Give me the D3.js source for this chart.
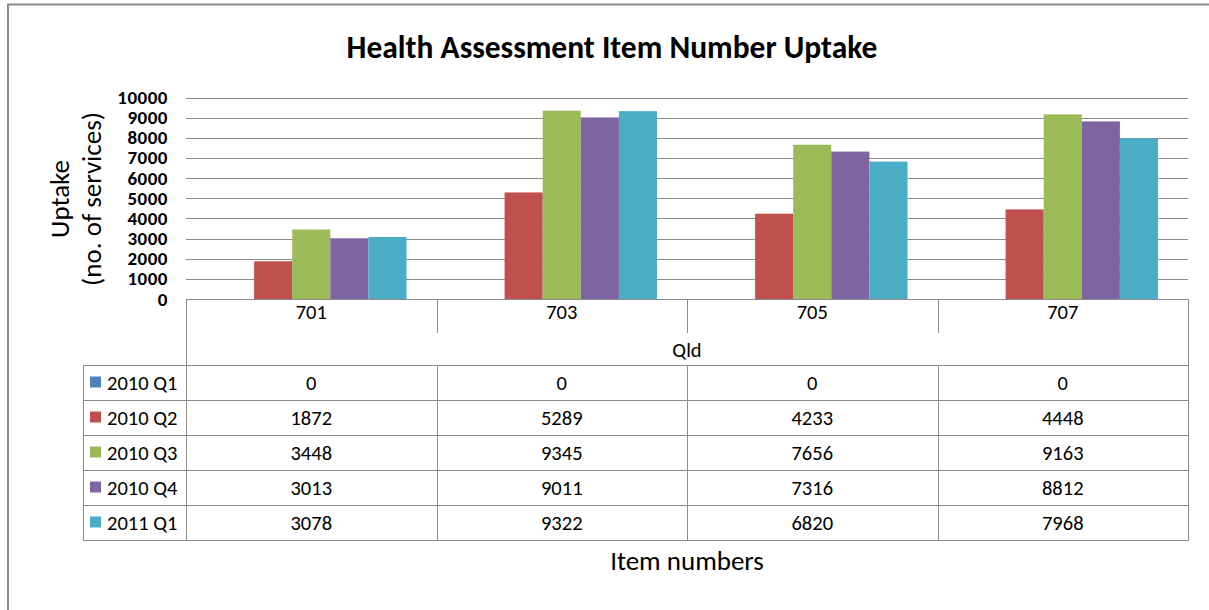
<!DOCTYPE html>
<html>
<head>
<meta charset="utf-8">
<script src="https://cdn.jsdelivr.net/npm/d3@7"></script>
<style>
  body { margin: 0; background: #fff; }
  text { font-family: Carlito, Lato, "Open Sans", sans-serif; fill: #000; }
</style>
</head>
<body>
<div id="chart"></div>
<script>
var w = 1209, h = 610;

// data
var items = ['701', '703', '705', '707'];
var series = ['2010 Q1', '2010 Q2', '2010 Q3', '2010 Q4', '2011 Q1'];
var colors = ['#4f81bd', '#c0504d', '#9bbb59', '#8064a2', '#4bacc6'];
var q1_2010 = [0, 0, 0, 0];
var q2_2010 = [1872, 5289, 4233, 4448];
var q3_2010 = [3448, 9345, 7656, 9163];
var q4_2010 = [3013, 9011, 7316, 8812];
var q1_2011 = [3078, 9322, 6820, 7968];
var values = [q1_2010, q2_2010, q3_2010, q4_2010, q1_2011];
var yTicks = [0, 1000, 2000, 3000, 4000, 5000, 6000, 7000, 8000, 9000, 10000];

var plotL = 186, plotR = 1188, plotT = 97.5, plotB = 299;
var rowH = 35, tableTop = 365, legendL = 83;

var svg = d3.select('#chart').append('svg')
  .attr('width', w)
  .attr('height', h);

// outer chart border (only top and left show)
svg.append('path')
  .attr('d', 'M8,' + (h + 5) + 'V4.5H' + (w + 5))
  .attr('fill', 'none')
  .attr('stroke', '#8a8a8a')
  .attr('stroke-width', 2);

svg.append('text')
  .attr('x', 612)
  .attr('y', 58)
  .attr('text-anchor', 'middle')
  .attr('font-size', '31.5px')
  .attr('font-weight', 'bold')
  .text('Health Assessment Item Number Uptake');

var xScale = d3.scaleBand().domain(items).range([plotL, plotR]);
var inner = d3.scaleBand().domain(series)
  .range([30, xScale.bandwidth() - 30]);
var yScale = d3.scaleLinear().domain([0, 10000]).range([plotB, plotT]);

// gridlines
svg.append('g').selectAll('line').data(yTicks)
  .enter().append('line')
  .attr('x1', plotL).attr('x2', plotR)
  .attr('y1', function(d) { return Math.round(yScale(d)) + 0.5; })
  .attr('y2', function(d) { return Math.round(yScale(d)) + 0.5; })
  .attr('stroke', '#8c8c8c')
  .attr('stroke-width', 1);

// y axis tick labels
svg.append('g').selectAll('text').data(yTicks)
  .enter().append('text')
  .attr('x', 168)
  .attr('y', function(d) { return yScale(d) + 6.5; })
  .attr('text-anchor', 'end')
  .attr('font-size', '19px')
  .attr('letter-spacing', '0.5px')
  .attr('font-weight', 'bold')
  .text(function(d) { return d; });

// y axis title
var yt = svg.append('text')
  .attr('transform', 'translate(69,' + 199 + ') rotate(-90)')
  .attr('text-anchor', 'middle')
  .attr('font-size', '27px');
yt.append('tspan').attr('x', 0).attr('dy', 0).text('Uptake');
yt.append('tspan').attr('x', 0).attr('dy', 32).text('(no. of services)');

// bars
series.forEach(function(s, si) {
  svg.append('g').selectAll('rect').data(items)
    .enter().append('rect')
    .attr('x', function(d) { return xScale(d) + inner(s); })
    .attr('width', inner.bandwidth())
    .attr('y', function(d, i) { return yScale(values[si][i]); })
    .attr('height', function(d, i) { return plotB - yScale(values[si][i]); })
    .attr('fill', colors[si]);
});

// data table lines
var lineCol = '#8c8c8c';
var tbl = svg.append('g').attr('stroke', lineCol).attr('stroke-width', 1).attr('fill', 'none');
// axis line
tbl.append('line').attr('x1', plotL).attr('x2', plotR).attr('y1', plotB + 0.5).attr('y2', plotB + 0.5);
// category separators in header
tbl.selectAll('.sep').data(items.slice(1))
  .enter().append('line')
  .attr('x1', function(d) { return Math.round(xScale(d)) + 0.5; })
  .attr('x2', function(d) { return Math.round(xScale(d)) + 0.5; })
  .attr('y1', plotB).attr('y2', plotB + 34);
// left & right of plot
tbl.append('line').attr('x1', plotL + 0.5).attr('x2', plotL + 0.5).attr('y1', plotB).attr('y2', tableTop + rowH * 5);
tbl.append('line').attr('x1', plotR + 0.5).attr('x2', plotR + 0.5).attr('y1', plotB).attr('y2', tableTop + rowH * 5);
tbl.append('line').attr('x1', legendL + 0.5).attr('x2', legendL + 0.5).attr('y1', tableTop).attr('y2', tableTop + rowH * 5);
// row lines
tbl.selectAll('.row').data(d3.range(6))
  .enter().append('line')
  .attr('x1', legendL).attr('x2', plotR + 1)
  .attr('y1', function(d) { return tableTop + d * rowH + 0.5; })
  .attr('y2', function(d) { return tableTop + d * rowH + 0.5; });
// column lines in body
tbl.selectAll('.col').data(items.slice(1))
  .enter().append('line')
  .attr('x1', function(d) { return Math.round(xScale(d)) + 0.5; })
  .attr('x2', function(d) { return Math.round(xScale(d)) + 0.5; })
  .attr('y1', tableTop).attr('y2', tableTop + rowH * 5);

// category labels
svg.append('g').selectAll('text').data(items)
  .enter().append('text')
  .attr('x', function(d) { return xScale(d) + xScale.bandwidth() / 2; })
  .attr('y', 319)
  .attr('text-anchor', 'middle')
  .attr('font-size', '20.5px')
  .text(function(d) { return d; });

svg.append('text')
  .attr('x', (plotL + plotR) / 2)
  .attr('y', 357)
  .attr('text-anchor', 'middle')
  .attr('font-size', '20.5px')
  .text('Qld');

// legend column + values
series.forEach(function(s, si) {
  var cy = tableTop + si * rowH + rowH / 2;
  svg.append('rect')
    .attr('x', 90).attr('y', cy - 6)
    .attr('width', 11).attr('height', 11)
    .attr('fill', colors[si]);
  svg.append('text')
    .attr('x', 107).attr('y', cy + 7)
    .attr('font-size', '20.5px')
    .text(s);
  svg.append('g').selectAll('text').data(items)
    .enter().append('text')
    .attr('x', function(d) { return xScale(d) + xScale.bandwidth() / 2; })
    .attr('y', cy + 7)
    .attr('text-anchor', 'middle')
    .attr('font-size', '20.5px')
    .text(function(d, i) { return values[si][i]; });
});

svg.append('text')
  .attr('x', (plotL + plotR) / 2)
  .attr('y', 570)
  .attr('text-anchor', 'middle')
  .attr('font-size', '27px')
  .text('Item numbers');
</script>
</body>
</html>
